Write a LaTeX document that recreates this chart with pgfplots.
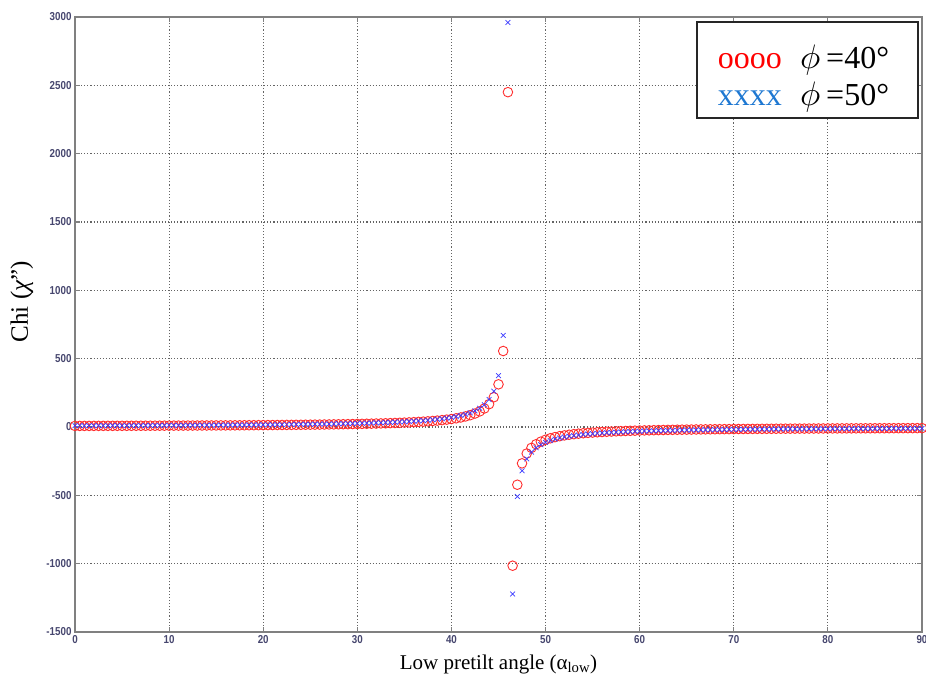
\documentclass[border=0pt]{standalone}
\usepackage{fontspec}
\setmainfont{Liberation Serif}
\newfontfamily\tickfont[FakeStretch=0.85]{Liberation Sans}
\usepackage{graphicx}
\usepackage{pgfplots}
\pgfplotsset{compat=1.18}
\usepackage{pgfplotstable}

\definecolor{tickgray}{RGB}{70,70,110}
\definecolor{axgray}{RGB}{128,128,128}
\definecolor{gridgray}{RGB}{100,100,100}
\definecolor{mred}{RGB}{255,45,45}
\definecolor{mblue}{RGB}{60,60,255}
\definecolor{legblue}{RGB}{30,120,210}

% chi'' versus low pretilt angle, for phi = 40 and phi = 50 degrees
\pgfplotstableread{
x red blue
0 7.8 9.4
0.5 7.9 9.5
1 8.0 9.6
1.5 8.0 9.7
2 8.1 9.8
2.5 8.2 9.9
3 8.3 10.0
3.5 8.4 10.1
4 8.5 10.3
4.5 8.6 10.4
5 8.7 10.5
5.5 8.8 10.6
6 8.9 10.8
6.5 9.1 10.9
7 9.2 11.0
7.5 9.3 11.2
8 9.4 11.3
8.5 9.5 11.5
9 9.7 11.6
9.5 9.8 11.8
10 9.9 12.0
10.5 10.1 12.1
11 10.2 12.3
11.5 10.4 12.5
12 10.5 12.7
12.5 10.7 12.8
13 10.8 13.0
13.5 11.0 13.2
14 11.2 13.4
14.5 11.3 13.6
15 11.5 13.9
15.5 11.7 14.1
16 11.9 14.3
16.5 12.1 14.6
17 12.3 14.8
17.5 12.5 15.1
18 12.8 15.3
18.5 13.0 15.6
19 13.2 15.9
19.5 13.5 16.2
20 13.7 16.5
20.5 14.0 16.8
21 14.3 17.2
21.5 14.6 17.5
22 14.9 17.9
22.5 15.2 18.3
23 15.5 18.7
23.5 15.9 19.1
24 16.2 19.5
24.5 16.6 20.0
25 17.0 20.4
25.5 17.4 20.9
26 17.8 21.4
26.5 18.3 22.0
27 18.7 22.6
27.5 19.2 23.2
28 19.8 23.8
28.5 20.3 24.5
29 20.9 25.2
29.5 21.6 25.9
30 22.2 26.7
30.5 22.9 27.6
31 23.7 28.5
31.5 24.5 29.5
32 25.4 30.5
32.5 26.3 31.6
33 27.3 32.9
33.5 28.4 34.2
34 29.5 35.6
34.5 30.8 37.1
35 32.2 38.7
35.5 33.7 40.6
36 35.4 42.6
36.5 37.2 44.8
37 39.2 47.2
37.5 41.5 49.9
38 44.0 53.0
38.5 46.9 56.5
39 50.2 60.4
39.5 54.0 65.0
40 58.4 70.2
40.5 63.5 76.5
41 69.7 83.9
41.5 77.2 92.9
42 86.5 104.1
42.5 98.4 118.4
43 114.0 137.1
43.5 135.5 163.0
44 167.0 200.9
44.5 217.6 261.8
45 312.2 375.7
45.5 556.0 670.0
46 2450.0 2960.0
46.5 -1015.0 -1222.0
47 -422.4 -508.2
47.5 -265.9 -320.0
48 -194.1 -233.5
48.5 -152.8 -183.8
49 -126.0 -151.6
49.5 -107.2 -129.0
50 -93.2 -112.2
50.5 -82.5 -99.3
51 -74.0 -89.1
51.5 -67.1 -80.7
52 -61.4 -73.8
52.5 -56.5 -68.0
53 -52.4 -63.1
53.5 -48.8 -58.8
54 -45.7 -55.0
54.5 -43.0 -51.7
55 -40.6 -48.8
55.5 -38.4 -46.2
56 -36.4 -43.9
56.5 -34.7 -41.7
57 -33.1 -39.8
57.5 -31.6 -38.1
58 -30.3 -36.5
58.5 -29.1 -35.0
59 -27.9 -33.6
59.5 -26.9 -32.4
60 -25.9 -31.2
60.5 -25.0 -30.1
61 -24.2 -29.1
61.5 -23.4 -28.1
62 -22.6 -27.3
62.5 -22.0 -26.4
63 -21.3 -25.6
63.5 -20.7 -24.9
64 -20.1 -24.2
64.5 -19.6 -23.5
65 -19.0 -22.9
65.5 -18.6 -22.3
66 -18.1 -21.8
66.5 -17.6 -21.2
67 -17.2 -20.7
67.5 -16.8 -20.2
68 -16.4 -19.8
68.5 -16.1 -19.3
69 -15.7 -18.9
69.5 -15.4 -18.5
70 -15.1 -18.1
70.5 -14.7 -17.7
71 -14.4 -17.4
71.5 -14.2 -17.0
72 -13.9 -16.7
72.5 -13.6 -16.4
73 -13.4 -16.1
73.5 -13.1 -15.8
74 -12.9 -15.5
74.5 -12.7 -15.2
75 -12.4 -15.0
75.5 -12.2 -14.7
76 -12.0 -14.5
76.5 -11.8 -14.2
77 -11.6 -14.0
77.5 -11.5 -13.8
78 -11.3 -13.6
78.5 -11.1 -13.4
79 -10.9 -13.2
79.5 -10.8 -13.0
80 -10.6 -12.8
80.5 -10.5 -12.6
81 -10.3 -12.4
81.5 -10.2 -12.2
82 -10.0 -12.1
82.5 -9.9 -11.9
83 -9.7 -11.7
83.5 -9.6 -11.6
84 -9.5 -11.4
84.5 -9.4 -11.3
85 -9.2 -11.1
85.5 -9.1 -11.0
86 -9.0 -10.8
86.5 -8.9 -10.7
87 -8.8 -10.6
87.5 -8.7 -10.4
88 -8.6 -10.3
88.5 -8.5 -10.2
89 -8.4 -10.1
89.5 -8.3 -10.0
90 -8.2 -9.9
}\chidata

\newcommand{\bigphi}{\scalebox{3.4}{$\phi$}}

\begin{document}
\begin{tikzpicture}
\useasboundingbox (-75pt,-48pt) rectangle (851pt,632pt);
\begin{axis}[
  at={(0pt,0pt)}, anchor=south west,
  scale only axis, width=847pt, height=615pt,
  xmin=0, xmax=90, ymin=-1500, ymax=3000,
  xtick={0,10,...,90}, ytick={-1500,-1000,...,3000},
  scaled ticks=false,
  /pgf/number format/assume math mode=true,
  /pgf/number format/1000 sep={},
  tick label style={font=\tickfont\bfseries\fontsize{11.5}{13}\selectfont, text=tickgray},
  grid=major,
  major grid style={gridgray, line width=1.1pt, dash pattern=on 1.1pt off 2.0pt},
  axis line style={axgray, line width=1.8pt},
  tick style={axgray, line width=1.2pt},
  tick align=inside, major tick length=5pt,
  clip=false,
  xlabel={Low pretilt angle (α\textsubscript{low})},
  ylabel={Chi ({\itshape χ}”)},
  every axis x label/.style={at={(axis description cs:0.5,-0.0602)}, anchor=base,
    font=\fontsize{21}{24}\selectfont},
  every axis y label/.style={at={(axis description cs:-0.0555,0.537)}, anchor=base, rotate=90,
    font=\fontsize{25}{28}\selectfont},
]
\addplot[only marks, mark=o, mark size=4.8pt, mark options={mred, line width=0.9pt}]
  table[x=x, y=red] {\chidata};
\addplot[only marks, mark=x, mark size=3.4pt, mark options={mblue, line width=0.7pt}]
  table[x=x, y=blue] {\chidata};
\end{axis}
% legend box
\draw[black!85, line width=1.5pt, fill=white] (622pt,514pt) rectangle (843pt,610pt);
\node[anchor=base west, inner sep=0, text=red, font=\fontsize{32}{36}\selectfont] at (642.7pt,563.7pt) {oooo};
\node[anchor=base west, inner sep=0] at (725pt,563.7pt) {\bigphi};
\node[anchor=base west, inner sep=0, font=\fontsize{32}{36}\selectfont] at (751pt,563.7pt) {=40°};
\node[anchor=base west, inner sep=0, text=legblue, font=\fontsize{32}{36}\selectfont] at (642.7pt,526.3pt) {xxxx};
\node[anchor=base west, inner sep=0] at (725pt,526.3pt) {\bigphi};
\node[anchor=base west, inner sep=0, font=\fontsize{32}{36}\selectfont] at (751pt,526.3pt) {=50°};
\end{tikzpicture}
\end{document}
